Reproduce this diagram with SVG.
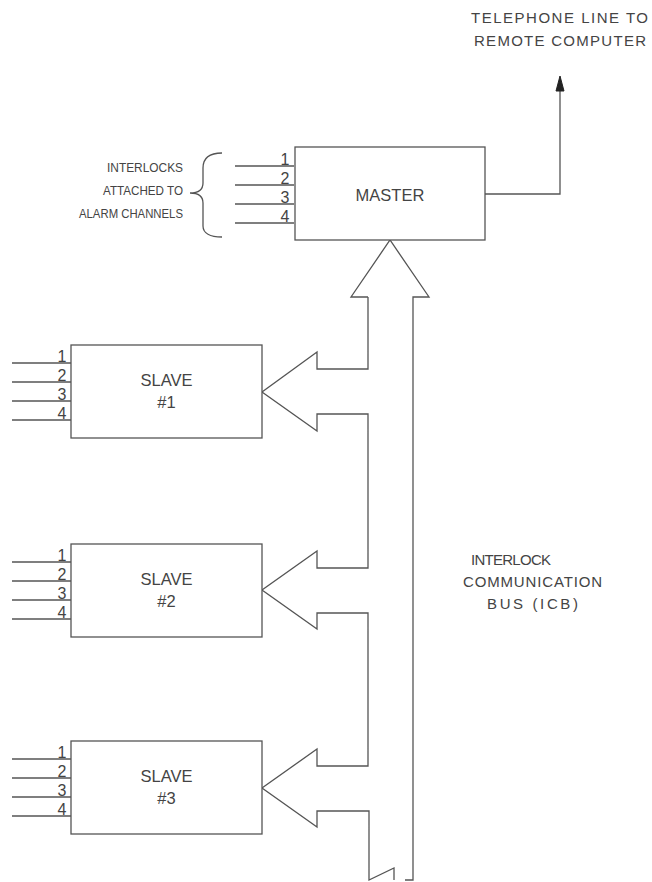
<svg xmlns="http://www.w3.org/2000/svg" width="652" height="882" viewBox="0 0 652 882">
  <style>
    .ln { fill: none; stroke: #555; stroke-width: 1.3; stroke-linejoin: miter; }
    .box { fill: #fff; stroke: #555; stroke-width: 1.3; }
    .t { font-family: "Liberation Sans", Arial, sans-serif; fill: #444; font-size: 15px; }
    .ts { font-family: "Liberation Sans", Arial, sans-serif; fill: #444; font-size: 13px; }
    .lbl { font-family: "Liberation Sans", Arial, sans-serif; fill: #444; font-size: 16.5px; text-anchor: middle; }
    .num { font-family: "Liberation Sans", Arial, sans-serif; fill: #444; font-size: 16px; text-anchor: middle; }
  </style>
  <defs>
    <g id="inputs">
      <line class="ln" x1="0" y1="18" x2="59" y2="18"/>
      <line class="ln" x1="0" y1="37" x2="59" y2="37"/>
      <line class="ln" x1="0" y1="56" x2="59" y2="56"/>
      <line class="ln" x1="0" y1="75" x2="59" y2="75"/>
      <text class="num" x="50" y="16.5">1</text>
      <text class="num" x="50" y="35.5">2</text>
      <text class="num" x="50" y="54.5">3</text>
      <text class="num" x="50" y="73.5">4</text>
    </g>
  </defs>

  <g id="connectors">
    <!-- Interlock communication bus outline -->
    <path class="ln" d="M368,297 L351,297 L390,240 L429,297 L413,297 L413,880 L405,880"/>
    <path class="ln" d="M368,297 V369 H317 V352 L262,392 L317,431 V414 H368 V568 H317 V551 L262,590 L317,629 V613 H368 V766 H317 V749 L262,788 L317,827 V811 H369 V880 L394,868 V880"/>
    <!-- Telephone line -->
    <path class="ln" d="M485,194 H560 V88"/>
    <polygon points="560,76 556,91 564,91" fill="#222" stroke="#222" stroke-width="1"/>
    <!-- Brace -->
    <path class="ln" d="M222,153 C210,153 203,157 203,168 L203,183 C203,190 198,193 190,193 C198,193 203,196 203,203 L203,226 C203,233 210,237 222,237"/>
  </g>

  <g id="master">
    <use href="#inputs" x="235" y="148"/>
    <rect class="box" x="295" y="147" width="190" height="93"/>
    <text class="lbl" x="390" y="201">MASTER</text>
  </g>

  <g id="slave1">
    <use href="#inputs" x="12" y="345"/>
    <rect class="box" x="71" y="345" width="191" height="93"/>
    <text class="lbl" x="166.5" y="386">SLAVE</text>
    <text class="lbl" x="166.5" y="408">#1</text>
  </g>

  <g id="slave2">
    <use href="#inputs" x="12" y="544"/>
    <rect class="box" x="71" y="544" width="191" height="93"/>
    <text class="lbl" x="166.5" y="585">SLAVE</text>
    <text class="lbl" x="166.5" y="607">#2</text>
  </g>

  <g id="slave3">
    <use href="#inputs" x="12" y="741"/>
    <rect class="box" x="71" y="741" width="191" height="93"/>
    <text class="lbl" x="166.5" y="782">SLAVE</text>
    <text class="lbl" x="166.5" y="804">#3</text>
  </g>

  <g id="labels">
    <text class="t" x="471" y="23" textLength="177" lengthAdjust="spacing">TELEPHONE  LINE  TO</text>
    <text class="t" x="474" y="46" textLength="172" lengthAdjust="spacing">REMOTE  COMPUTER</text>
    <text class="ts" x="107" y="172" textLength="76" lengthAdjust="spacingAndGlyphs">INTERLOCKS</text>
    <text class="ts" x="103" y="195" textLength="80" lengthAdjust="spacingAndGlyphs">ATTACHED TO</text>
    <text class="ts" x="79" y="218" textLength="104" lengthAdjust="spacingAndGlyphs">ALARM CHANNELS</text>
    <text class="t" x="471" y="565" textLength="80" lengthAdjust="spacing">INTERLOCK</text>
    <text class="t" x="463" y="587" textLength="139" lengthAdjust="spacing">COMMUNICATION</text>
    <text class="t" x="487" y="609" textLength="91" lengthAdjust="spacing">BUS  (ICB)</text>
  </g>
</svg>
